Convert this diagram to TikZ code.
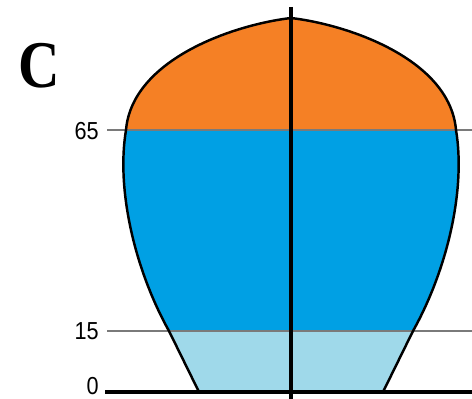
\documentclass[tikz,border=0pt]{standalone}
\usepackage{fontspec}
\setmainfont{Liberation Serif}
\newfontfamily\ticksans[FakeStretch=0.88]{Liberation Sans}
\usetikzlibrary{positioning}
\definecolor{domeorange}{HTML}{F58025}
\definecolor{coreblue}{HTML}{00A0E4}
\definecolor{baseblue}{HTML}{9FD9EA}
\definecolor{levelgray}{HTML}{7A7A7A}

\begin{document}
\begin{tikzpicture}[
    x=0.02cm, y=-0.02cm,
    level/.style={draw=levelgray, line width=0.7pt},
    ticklab/.style={font=\ticksans\fontsize{14}{15}\selectfont, anchor=east, inner sep=0pt},
    outline/.style={draw=black, line width=1.4pt, line join=round},
    axisline/.style={draw=black, line width=2.5pt},
    panellab/.style={font=\bfseries\fontsize{38}{40}\selectfont, xscale=0.86, inner sep=0pt},
]
\useasboundingbox (0,0) rectangle (472,398);
\def\bulbpath{(291,18) .. controls (350,25) and (450,60) .. (456,130)
  .. controls (466,190) and (447,270) .. (413,331) -- (383,392)
  -- (199,392) -- (169,331) .. controls (135,270) and (116,190) .. (126,130)
  .. controls (132,60) and (232,25) .. (291,18) -- cycle}

% coloured layers
\begin{scope}
  \clip \bulbpath;
  \fill[baseblue] (100,331) rectangle (480,400);
  \fill[coreblue] (100,130) rectangle (480,331);
  \fill[domeorange] (100,0) rectangle (480,130);
\end{scope}

% level lines
\coordinate (l65a) at (107,130);
\coordinate (l65b) at (472,130);
\coordinate (l15a) at (107,331);
\coordinate (l15b) at (472,331);
\draw[level] (l65a) -- (l65b);
\draw[level] (l15a) -- (l15b);

% outline and axes
\draw[outline] \bulbpath;
\coordinate (axtop) at (291,7);
\coordinate (axbot) at (291,400);
\draw[axisline] (axtop) -- (axbot);
\coordinate (basel) at (105,392);
\coordinate (baser) at (472,392);
\draw[line width=2.8pt] (basel) -- (baser);

% labels
\node[ticklab] (lab65) at (99,131) {65};
\node[ticklab] (lab15) at (99,331) {15};
\node[ticklab] (lab0) at (99,386) {0};
\node[panellab] (panel) at (39,66) {C};

\end{tikzpicture}
\end{document}
